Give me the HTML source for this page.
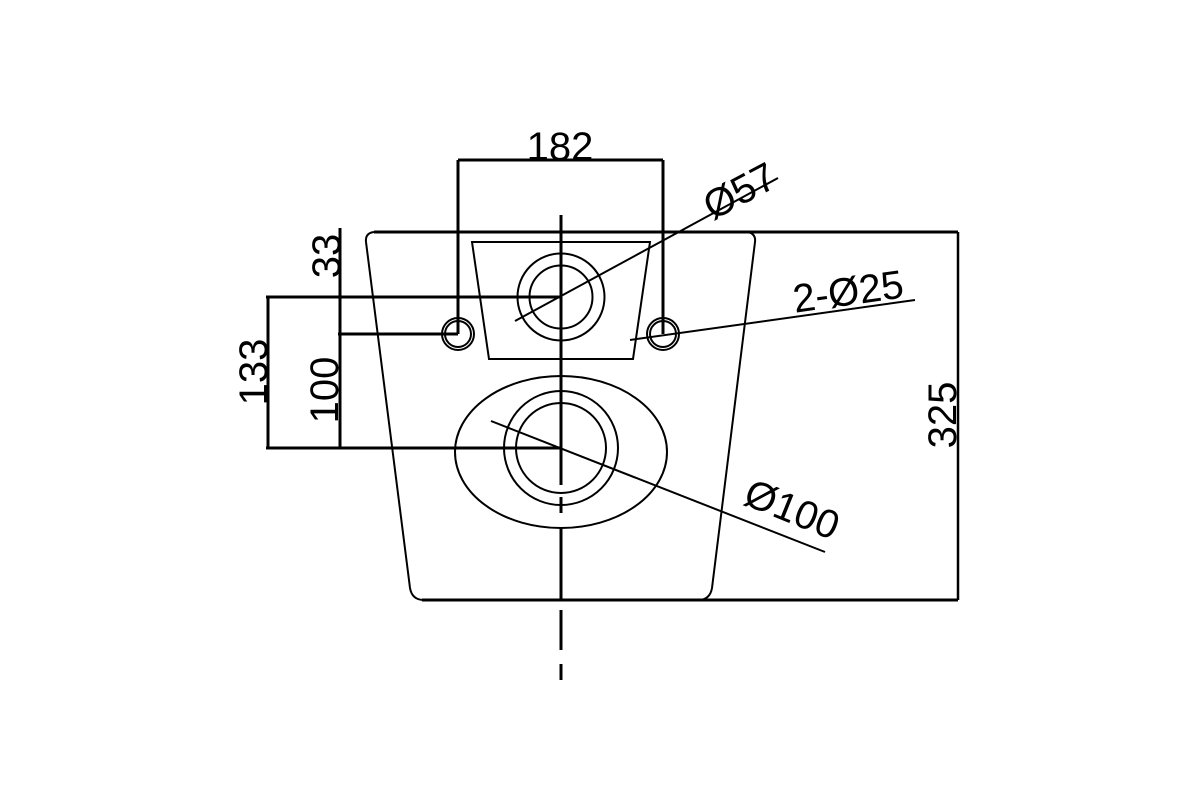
<!DOCTYPE html>
<html><head><style>html,body{margin:0;background:#fff}</style></head><body>
<svg width="1200" height="800" xmlns="http://www.w3.org/2000/svg" style="display:block">
<g fill="none" stroke="#000" stroke-width="2">
<path d="M366 242 L410 588 Q412 600 424 600 H958 M755 242 Q756 234 748 232 M755 242 L712 588 Q710 600 698 600" stroke-width="2"/>
<path d="M374 232 Q365 233 366 242"/>
<line x1="422" y1="600" x2="958" y2="600" stroke-width="3"/>
<line x1="374" y1="232" x2="958" y2="232" stroke-width="3"/>
<line x1="958" y1="232" x2="958" y2="600" stroke-width="2.5"/>
<path d="M472 242 H650 L633 359 H489 Z"/>
<circle cx="561" cy="297" r="43.5"/>
<circle cx="561" cy="297" r="31.5"/>
<circle cx="458" cy="334" r="16"/><circle cx="458" cy="334" r="13"/>
<circle cx="663" cy="334" r="16"/><circle cx="663" cy="334" r="13"/>
<ellipse cx="561" cy="452" rx="106" ry="76"/>
<circle cx="561" cy="448" r="57"/>
<circle cx="561" cy="448" r="45"/>
<g stroke-width="3">
<line x1="561" y1="215" x2="561" y2="485"/>
<line x1="561" y1="497" x2="561" y2="513"/>
<line x1="561" y1="527" x2="561" y2="600"/>
<line x1="561" y1="610" x2="561" y2="650"/>
<line x1="561" y1="664" x2="561" y2="680"/>
<line x1="458" y1="160" x2="663" y2="160"/>
<line x1="458" y1="160" x2="458" y2="334"/>
<line x1="663" y1="160" x2="663" y2="334"/>
<line x1="266" y1="297" x2="561" y2="297"/>
<line x1="338" y1="334" x2="458" y2="334"/>
<line x1="266" y1="448" x2="561" y2="448"/>
<line x1="268" y1="297" x2="268" y2="448"/>
<line x1="340" y1="228" x2="340" y2="448"/>
</g>
<line x1="515" y1="321" x2="778" y2="178"/>
<line x1="630" y1="340" x2="915" y2="300"/>
<line x1="491" y1="421" x2="825" y2="552"/>
</g>
<g font-family="Liberation Sans, sans-serif" font-size="40" fill="#000">
<text x="560" y="160" text-anchor="middle">182</text>
<text transform="translate(340,256) rotate(-90)" text-anchor="middle">33</text>
<text transform="translate(267,372) rotate(-90)" text-anchor="middle">133</text>
<text transform="translate(338,390) rotate(-90)" text-anchor="middle">100</text>
<text transform="translate(956,415) rotate(-90)" text-anchor="middle">325</text>
<text transform="translate(746,203) rotate(-28)" text-anchor="middle">Ø57</text>
<text transform="translate(850,305) rotate(-8)" text-anchor="middle">2-Ø25</text>
<text transform="translate(787,522) rotate(22)" text-anchor="middle">Ø100</text>
</g>
</svg>
</body></html>
